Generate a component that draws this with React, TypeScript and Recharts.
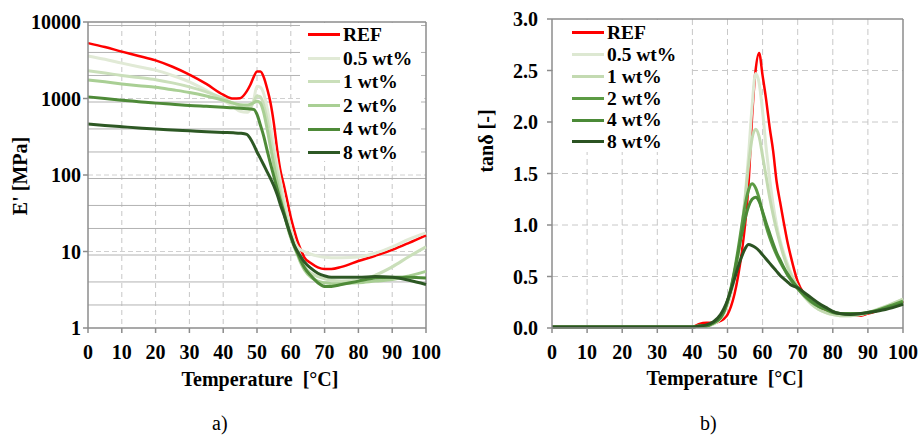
import React from 'react';
import { LineChart, Line, XAxis, YAxis, CartesianGrid, Legend, ReferenceLine } from 'recharts';

const FONT = "'Liberation Serif', 'DejaVu Serif', serif";

const seriesNames = ['REF', '0.5 wt%', '1 wt%', '2 wt%', '4 wt%', '8 wt%'];
const seriesKeys = ['ref', 'w05', 'w1', 'w2', 'w4', 'w8'];

const tempTicks = [0, 10, 20, 30, 40, 50, 60, 70, 80, 90, 100];

// a) storage modulus E' [MPa]
const modTemps = [0, 5, 10, 15, 20, 25, 30, 35, 40, 43, 45, 47, 48, 49, 50, 51, 52, 53, 54, 55, 56, 57, 58, 59, 60, 61, 62, 63, 64, 66, 68, 70, 72, 75, 80, 85, 90, 95, 100];
const modRef = [5300, 4700, 4100, 3600, 3150, 2600, 2050, 1550, 1120, 1000, 1010, 1250, 1500, 1900, 2250, 2250, 1900, 1350, 880, 470, 210, 110, 72, 45, 28, 19, 13.5, 10.5, 8.4, 7.0, 6.2, 5.9, 5.9, 6.3, 7.5, 8.8, 10.5, 13, 16.3];
const mod05 = [3600, 3250, 2900, 2600, 2350, 2000, 1650, 1280, 950, 780, 680, 660, 720, 950, 1450, 1400, 1150, 750, 430, 240, 135, 80, 48, 30, 20, 14, 11.5, 10.5, 10, 9.2, 8.7, 8.4, 8.3, 8.3, 8.5, 9.5, 11.5, 14.5, 17.5];
const mod1 = [2300, 2150, 2000, 1880, 1760, 1600, 1420, 1220, 1000, 870, 800, 760, 780, 900, 1080, 1050, 820, 530, 310, 180, 105, 62, 38, 25, 17, 12.5, 9.5, 7.5, 6.3, 5.2, 4.7, 4.4, 4.2, 4.1, 4.2, 4.9, 6.3, 8.6, 11.5];
const mod2 = [1750, 1650, 1550, 1470, 1400, 1300, 1200, 1080, 950, 870, 830, 820, 840, 880, 920, 870, 650, 400, 230, 135, 80, 50, 32, 21, 15, 11.5, 9, 7, 5.8, 4.6, 4.1, 3.9, 3.8, 3.8, 3.9, 4.1, 4.3, 4.8, 5.5];
const mod4 = [1050, 1000, 950, 910, 870, 840, 810, 790, 770, 755, 745, 735, 730, 720, 620, 450, 320, 210, 140, 95, 65, 45, 32, 22, 16, 12, 9.5, 7.5, 6.2, 4.8, 3.9, 3.5, 3.5, 3.7, 4.1, 4.5, 4.6, 4.6, 4.5];
const mod8 = [465, 445, 428, 412, 398, 388, 378, 368, 360, 356, 352, 340, 300, 250, 200, 165, 135, 110, 90, 72, 55, 40, 30, 22, 16, 12, 10, 8.5, 7.3, 6, 5.2, 4.8, 4.6, 4.6, 4.6, 4.7, 4.6, 4.2, 3.7];
const modTicks = [1, 10, 100, 1000, 10000];
const modMajor = [10, 100, 1000];
const modMinor = [1, 10, 100, 1000].flatMap((d) => [2, 3, 4, 5, 6, 7, 8, 9].map((m) => m * d));

// b) loss factor tan delta [-]
const tanTemps = [0, 10, 20, 30, 40, 42, 44, 46, 48, 49, 50, 51, 52, 53, 54, 55, 56, 57, 58, 59, 60, 61, 62, 63, 64, 65, 66, 67, 68, 70, 72, 74, 76, 78, 80, 82, 85, 88, 90, 95, 100];
const tanRef = [0.01, 0.01, 0.01, 0.01, 0.01, 0.04, 0.05, 0.05, 0.07, 0.09, 0.13, 0.21, 0.33, 0.5, 0.72, 1.0, 1.4, 2.05, 2.5, 2.67, 2.45, 2.22, 1.95, 1.72, 1.42, 1.22, 1.03, 0.85, 0.7, 0.45, 0.32, 0.24, 0.2, 0.17, 0.15, 0.13, 0.12, 0.12, 0.14, 0.19, 0.26];
const tan05 = [0.01, 0.01, 0.01, 0.01, 0.01, 0.02, 0.02, 0.04, 0.09, 0.14, 0.22, 0.33, 0.48, 0.68, 0.93, 1.26, 1.68, 2.15, 2.47, 2.38, 2.1, 1.75, 1.45, 1.2, 1.0, 0.85, 0.73, 0.63, 0.54, 0.4, 0.3, 0.23, 0.18, 0.15, 0.13, 0.12, 0.12, 0.13, 0.15, 0.2, 0.28];
const tan1 = [0.01, 0.01, 0.01, 0.01, 0.01, 0.02, 0.02, 0.04, 0.09, 0.15, 0.24, 0.36, 0.5, 0.7, 0.95, 1.25, 1.58, 1.84, 1.93, 1.86, 1.67, 1.47, 1.27, 1.1, 0.95, 0.82, 0.7, 0.6, 0.52, 0.39, 0.3, 0.23, 0.18, 0.15, 0.13, 0.12, 0.12, 0.13, 0.15, 0.21, 0.28];
const tan2 = [0.01, 0.01, 0.01, 0.01, 0.01, 0.02, 0.02, 0.05, 0.1, 0.16, 0.26, 0.39, 0.56, 0.76, 0.98, 1.19, 1.34, 1.4, 1.36, 1.26, 1.12, 0.99, 0.88, 0.79, 0.71, 0.64, 0.58, 0.52, 0.47, 0.38, 0.31, 0.25, 0.21, 0.18, 0.15, 0.14, 0.13, 0.14, 0.15, 0.2, 0.26];
const tan4 = [0.01, 0.01, 0.01, 0.01, 0.01, 0.02, 0.02, 0.05, 0.1, 0.16, 0.26, 0.38, 0.54, 0.72, 0.9, 1.06, 1.18, 1.25, 1.27, 1.23, 1.13, 1.02, 0.92, 0.82, 0.73, 0.66, 0.59, 0.53, 0.48, 0.39, 0.32, 0.26, 0.21, 0.18, 0.16, 0.14, 0.14, 0.14, 0.15, 0.19, 0.24];
const tan8 = [0.01, 0.01, 0.01, 0.01, 0.01, 0.02, 0.03, 0.06, 0.13, 0.19, 0.27, 0.37, 0.48, 0.59, 0.69, 0.77, 0.81, 0.8, 0.78, 0.75, 0.71, 0.67, 0.63, 0.59, 0.55, 0.51, 0.48, 0.45, 0.42, 0.39, 0.34, 0.29, 0.24, 0.2, 0.16, 0.14, 0.13, 0.14, 0.15, 0.18, 0.23];
const tanTicks = [0, 0.5, 1, 1.5, 2, 2.5, 3];

const modColors = ['#ff0000', '#e1ead6', '#cadfba', '#a9cf94', '#4e8a38', '#2d5824'];
const tanColors = ['#ff0000', '#dde8d2', '#c3dab1', '#5c9b44', '#4b8a37', '#2b5322'];

function toRows(temps: number[], series: number[][]) {
  return temps.map((t, i) => {
    const row: Record<string, number> = { t };
    seriesKeys.forEach((k, s) => {
      row[k] = series[s][i];
    });
    return row;
  });
}

const modRows = toRows(modTemps, [modRef, mod05, mod1, mod2, mod4, mod8]);
const tanRows = toRows(tanTemps, [tanRef, tan05, tan1, tan2, tan4, tan8]);

const tickStyle = { fill: '#000', fontFamily: FONT, fontWeight: 'bold', fontSize: 20 };
const axisStroke = { stroke: '#8c8c8c', strokeWidth: 1.5 };

function AxisTitle({ px, py, rot, text }: { px: number; py: number; rot?: number; text: string }) {
  return (
    <text
      x={px}
      y={py}
      transform={rot ? `rotate(${rot} ${px} ${py})` : undefined}
      textAnchor="middle"
      style={{ fontFamily: FONT, fontWeight: 'bold', fontSize: 20, whiteSpace: 'pre' }}
      fill="#000"
    >
      {text}
    </text>
  );
}

function KeyBox({ colors, rowH, padTop, padLeft }: { colors: string[]; rowH: number; padTop: number; padLeft: number }) {
  return (
    <div style={{ background: '#fff', paddingTop: padTop, paddingLeft: padLeft, height: '100%', boxSizing: 'border-box' }}>
      {seriesNames.map((name, i) => (
        <div key={name} style={{ display: 'flex', alignItems: 'center', height: rowH }}>
          <span style={{ display: 'inline-block', width: 32, borderTop: `3px solid ${colors[i]}`, marginRight: 3 }} />
          <span style={{ fontFamily: FONT, fontWeight: 'bold', fontSize: 19.5, lineHeight: 1, color: '#000' }}>{name}</span>
        </div>
      ))}
    </div>
  );
}

function ModulusChart() {
  return (
    <LineChart width={460} height={400} data={modRows} margin={{ top: 22, right: 34, bottom: 42, left: 0 }}>
      <CartesianGrid horizontal={false} verticalValues={[10, 20, 30, 40, 50, 60, 70, 80, 90]} stroke="#c6c6c6" strokeDasharray="5 4" />
      <CartesianGrid vertical={false} horizontalValues={modMinor} stroke="#b2b2b2" />
      <CartesianGrid vertical={false} horizontalValues={modMajor} stroke="#d0d0d0" strokeDasharray="5 3" />
      <XAxis
        dataKey="t"
        type="number"
        domain={[0, 100]}
        ticks={tempTicks}
        height={30}
        tickSize={5}
        tickMargin={12}
        tick={tickStyle}
        axisLine={axisStroke}
        tickLine={axisStroke}
        label={<AxisTitle px={260} py={386} text="Temperature  [°C]" />}
      />
      <YAxis
        type="number"
        scale="log"
        domain={[1, 10000]}
        ticks={modTicks}
        allowDataOverflow
        width={88}
        tickSize={5}
        tickMargin={2}
        tick={tickStyle}
        axisLine={axisStroke}
        tickLine={axisStroke}
        label={<AxisTitle px={27} py={176} rot={-90} text="E' [MPa]" />}
      />
      <ReferenceLine y={10000} stroke="#8c8c8c" strokeWidth={1.5} />
      <ReferenceLine x={100} stroke="#8c8c8c" strokeWidth={1.5} />
      {seriesKeys.map((k, i) => (
        <Line
          key={k}
          dataKey={k}
          name={seriesNames[i]}
          type="monotone"
          stroke={modColors[i]}
          strokeWidth={i === 0 ? 2.5 : 3}
          dot={false}
          isAnimationActive={false}
        />
      ))}
      <Legend
        layout="vertical"
        align="center"
        verticalAlign="middle"
        wrapperStyle={{ left: 300, top: 23, width: 121, height: 138 }}
        content={() => <KeyBox colors={modColors} rowH={23.6} padTop={0} padLeft={8} />}
      />
    </LineChart>
  );
}

function LossChart() {
  return (
    <LineChart width={459} height={400} data={tanRows} margin={{ top: 19, right: 16, bottom: 42, left: 0 }}>
      <CartesianGrid verticalValues={[10, 20, 30, 40, 50, 60, 70, 80, 90]} horizontalValues={[0.5, 1, 1.5, 2, 2.5]} stroke="#c8c8c8" strokeDasharray="6 4" />
      <XAxis
        dataKey="t"
        type="number"
        domain={[0, 100]}
        ticks={tempTicks}
        height={30}
        tickSize={5}
        tickMargin={12}
        tick={tickStyle}
        axisLine={axisStroke}
        tickLine={axisStroke}
        label={<AxisTitle px={265} py={385} text="Temperature  [°C]" />}
      />
      <YAxis
        type="number"
        domain={[0, 3]}
        ticks={tanTicks}
        width={92}
        tickSize={5}
        tickMargin={9}
        tick={tickStyle}
        tickFormatter={(v: number) => v.toFixed(1)}
        axisLine={axisStroke}
        tickLine={axisStroke}
        label={<AxisTitle px={33} py={141} rot={-90} text="tanδ [-]" />}
      />
      <ReferenceLine y={3} stroke="#8c8c8c" strokeWidth={1.5} />
      <ReferenceLine x={100} stroke="#8c8c8c" strokeWidth={1.5} />
      {seriesKeys.map((k, i) => (
        <Line
          key={k}
          dataKey={k}
          name={seriesNames[i]}
          type="monotone"
          stroke={tanColors[i]}
          strokeWidth={i === 0 ? 2.5 : 3}
          dot={false}
          isAnimationActive={false}
        />
      ))}
      <Legend
        layout="vertical"
        align="center"
        verticalAlign="middle"
        wrapperStyle={{ left: 93, top: 20, width: 137, height: 132 }}
        content={() => <KeyBox colors={tanColors} rowH={21.8} padTop={2} padLeft={19} />}
      />
    </LineChart>
  );
}

export default function App() {
  const caption = { position: 'absolute' as const, top: 412, fontFamily: FONT, fontSize: 20, color: '#000' };
  return (
    <div style={{ position: 'absolute', left: 0, top: 0, width: 919, height: 435, background: '#fff', overflow: 'hidden', fontFamily: FONT }}>
      <div style={{ position: 'absolute', left: 0, top: 0 }}>
        <ModulusChart />
      </div>
      <div style={{ position: 'absolute', left: 460, top: 0 }}>
        <LossChart />
      </div>
      <div style={{ ...caption, left: 212 }}>a)</div>
      <div style={{ ...caption, left: 700 }}>b)</div>
    </div>
  );
}
